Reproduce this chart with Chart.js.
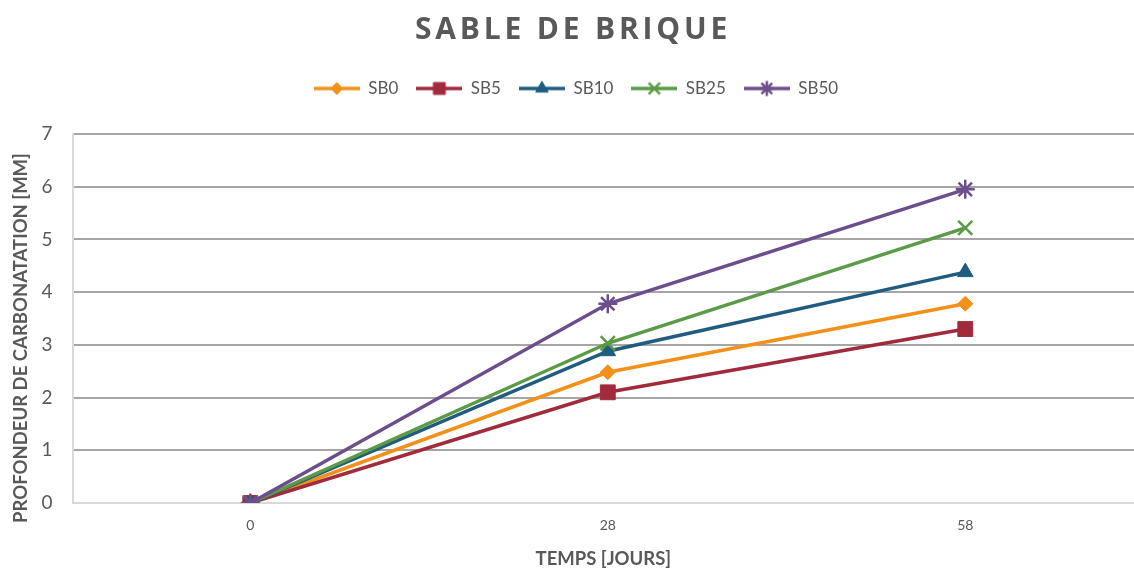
<!DOCTYPE html>
<html>
<head>
<meta charset="utf-8">
<script src="https://cdn.jsdelivr.net/npm/chart.js@4/dist/chart.umd.min.js"></script>
<style>
  html, body { margin: 0; padding: 0; background: #fff; }
  #wrap { width: 1134px; height: 570px; }
</style>
</head>
<body>
<div id="wrap"><canvas id="chart"></canvas></div>
<script>
// carbonation depth (mm) per age, one array per mix
const days = ["0", "28", "58"];
const sb0 = [0, 2.48, 3.78];
const sb5 = [0, 2.1, 3.3];
const sb10 = [0, 2.88, 4.38];
const sb25 = [0, 3.03, 5.22];
const sb50 = [0, 3.78, 5.95];
const yTicks = [0, 1, 2, 3, 4, 5, 6, 7];

const textColor = "#595959";
const titleText = "SABLE DE BRIQUE";
const yTitleText = "PROFONDEUR DE CARBONATATION [MM]";

const series = [
  { label: "SB0", data: sb0, color: "#F39019", style: "rectRot", radius: 7.5, bw: 1 },
  { label: "SB5", data: sb5, color: "#A12B3C", style: "rect", radius: 10.5, bw: 1 },
  { label: "SB10", data: sb10, color: "#1F5C7F", style: "triangle", radius: 9, bw: 1 },
  { label: "SB25", data: sb25, color: "#5B9A46", style: "crossRot", radius: 10, bw: 2.5 },
  { label: "SB50", data: sb50, color: "#6B4E8C", style: "star", radius: 9.5, bw: 2.5 },
];

// legend icon: short line with the marker in the middle
function legendIcon(s) {
  const c = document.createElement("canvas");
  c.width = 46;
  c.height = 20;
  const ctx = c.getContext("2d");
  ctx.strokeStyle = s.color;
  ctx.lineWidth = 3.5;
  ctx.beginPath();
  ctx.moveTo(0, 10);
  ctx.lineTo(46, 10);
  ctx.stroke();
  ctx.fillStyle = s.color;
  ctx.lineWidth = s.bw;
  Chart.helpers.drawPoint(ctx, { pointStyle: s.style, radius: s.radius * 0.8, rotation: 0, borderWidth: s.bw }, 23, 10);
  return c;
}

// extra room under the legend, spaced-out title and a y title that runs below the axis
const layoutTweaks = {
  id: "layoutTweaks",
  beforeInit(chart) {
    const legend = chart.legend;
    const fit = legend.fit;
    legend.fit = function () {
      fit.call(this);
      this.height += 27;
    };
    const draw = legend.draw;
    legend.draw = function (area) {
      this.ctx.save();
      this.ctx.translate(9, 0);
      draw.call(this, area);
      this.ctx.restore();
    };
  },
  afterDraw(chart) {
    const t = chart.titleBlock;
    const ctx = chart.ctx;
    ctx.save();
    ctx.font = "bold 30px 'Open Sans'";
    ctx.letterSpacing = "3.8px";
    ctx.fillStyle = textColor;
    ctx.textAlign = "center";
    ctx.textBaseline = "middle";
    ctx.fillText(titleText, chart.width / 2 + 6, t.top + t.height / 2 - 4);

    ctx.letterSpacing = "0px";
    ctx.font = "bold 18px Lato";
    const size = 18 * 370 / ctx.measureText(yTitleText).width;
    ctx.font = "bold " + size.toFixed(1) + "px Lato";
    ctx.translate(21, 338);
    ctx.rotate(-Math.PI / 2);
    ctx.fillText(yTitleText, 0, 0);
    ctx.restore();
  },
};

new Chart(document.getElementById("chart"), {
  type: "line",
  data: {
    datasets: series.map((s, i) => ({
      label: s.label,
      data: s.data.map((v, j) => ({ x: j, y: v })),
      borderColor: s.color,
      backgroundColor: s.color,
      borderWidth: 3.5,
      pointStyle: s.style,
      pointRadius: s.radius,
      pointBorderWidth: s.bw,
      pointBorderColor: s.color,
      pointBackgroundColor: s.color,
      tension: 0,
      order: series.length - i, // later mixes drawn on top
      icon: legendIcon(s),
    })),
  },
  options: {
    responsive: true,
    maintainAspectRatio: false,
    animation: false,
    layout: { autoPadding: false, padding: { left: 0, right: 0, top: 6, bottom: 0 } },
    plugins: {
      tooltip: { enabled: false },
      title: {
        display: true,
        text: titleText,
        color: "rgba(0,0,0,0)",
        font: { family: "'Open Sans'", size: 30, weight: "bold" },
        padding: { top: 4, bottom: 16 },
      },
      legend: {
        position: "top",
        labels: {
          usePointStyle: true,
          pointStyleWidth: 46,
          color: textColor,
          font: { family: "Lato", size: 17 },
          padding: 18,
          sort: (a, b) => a.datasetIndex - b.datasetIndex,
          generateLabels: (chart) =>
            chart.data.datasets.map((d, i) => ({
              text: d.label,
              pointStyle: d.icon,
              fontColor: textColor,
              strokeStyle: d.borderColor,
              fillStyle: d.borderColor,
              lineWidth: 0,
              datasetIndex: i,
            })),
        },
      },
    },
    scales: {
      x: {
        type: "linear",
        min: -0.497,
        max: 2.472,
        afterBuildTicks: (axis) => {
          axis.ticks = days.map((_, i) => ({ value: i }));
        },
        afterFit: (axis) => {
          // plot runs right up to the canvas edge
          axis.paddingLeft = 0;
          axis.paddingRight = 0;
        },
        ticks: {
          callback: (v) => days[v],
          color: textColor,
          font: { family: "Lato", size: 14 },
          padding: 6,
          maxRotation: 0,
        },
        grid: { display: false },
        border: { color: "#d9d9d9", width: 2 },
        title: {
          display: true,
          text: "TEMPS [JOURS]",
          color: textColor,
          font: { family: "Lato", size: 18.5, weight: "bold" },
          padding: { top: 8, bottom: 0 },
        },
      },
      y: {
        min: 0,
        max: 7,
        afterBuildTicks: (axis) => {
          axis.ticks = yTicks.map((v) => ({ value: v }));
        },
        ticks: {
          color: textColor,
          font: { family: "Lato", size: 19 },
          padding: 20,
        },
        grid: {
          color: (ctx) => (ctx.index === 0 ? "rgba(0,0,0,0)" : "#a6a6a6"),
          lineWidth: 2,
          drawTicks: false,
        },
        border: { color: "#d9d9d9", width: 2 },
        title: {
          display: true,
          text: yTitleText,
          color: "rgba(0,0,0,0)",
          font: { family: "Lato", size: 18, weight: "bold" },
          padding: { top: 0, bottom: 0 },
        },
      },
    },
  },
  plugins: [layoutTweaks],
});
</script>
</body>
</html>
